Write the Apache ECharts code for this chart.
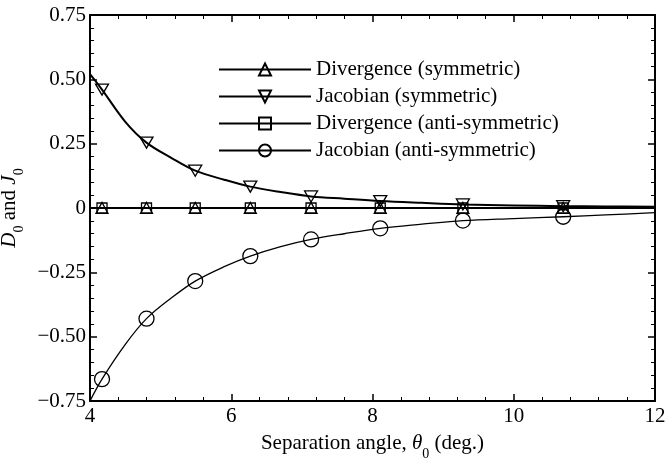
<!DOCTYPE html>
<html>
<head>
<meta charset="utf-8">
<script src="https://cdn.jsdelivr.net/npm/echarts@6/dist/echarts.min.js"></script>
<style>
  html, body { margin: 0; padding: 0; background: #fff; }
  #chart { width: 668px; height: 459px; }
</style>
</head>
<body>
<div id="chart"></div>
<script>
// Separation angles where the computed values are marked
const markAngles = [4.17, 4.8, 5.49, 6.27, 7.13, 8.11, 9.28, 10.7];

// Divergence is zero in both configurations
const divSymmetric = [0, 0, 0, 0, 0, 0, 0, 0];
const divAntiSymmetric = [0, 0, 0, 0, 0, 0, 0, 0];

// Fitted curves (angles include the marked points)
const curveAngles = [4, 4.17, 4.5, 4.8, 5.15, 5.49, 5.9, 6.27, 6.7, 7.13, 7.6, 8.11, 8.7, 9.28, 10, 10.7, 11.3, 12];
const jacSymmetric = [0.52, 0.46, 0.335, 0.254, 0.195, 0.145, 0.11, 0.083, 0.062, 0.045, 0.036, 0.027, 0.02, 0.014, 0.01, 0.007, 0.006, 0.005];
const jacAntiSymmetric = [-0.75, -0.665, -0.53, -0.43, -0.35, -0.284, -0.228, -0.187, -0.15, -0.122, -0.1, -0.079, -0.063, -0.049, -0.041, -0.034, -0.027, -0.018];

// Axis ticks
const xTicks = [4, 6, 8, 10, 12];
const yTicks = [-0.75, -0.5, -0.25, 0, 0.25, 0.5, 0.75];

const FONT = 'Liberation Serif';
const FS = 21;
const invTriangle = 'path://M0,0L20,0L10,17Z';

function isMark(x) {
  return markAngles.some(m => Math.abs(m - x) < 1e-6);
}

// Build point list: symbols shown only at the marked angles
function curveData(xs, ys) {
  return xs.map((x, i) => isMark(x) ? [x, ys[i]] : { value: [x, ys[i]], symbol: 'none' });
}
function flatData(ys) {
  const pts = [{ value: [4, 0], symbol: 'none' }];
  markAngles.forEach((x, i) => pts.push([x, ys[i]]));
  pts.push({ value: [12, 0], symbol: 'none' });
  return pts;
}

function fmtY(v) {
  if (Math.abs(v) < 1e-9) return '0';
  const s = Math.abs(v).toFixed(2);
  return v < 0 ? '\u2212' + s : s;
}

function lineSeries(name, data, symbol, size, width) {
  return {
    name: name,
    type: 'line',
    data: data,
    symbol: symbol,
    symbolSize: size,
    showSymbol: true,
    smooth: 0.35,
    clip: false,
    z: 3,
    lineStyle: { color: '#000', width: width },
    itemStyle: { color: 'rgba(255,255,255,0)', borderColor: '#000', borderWidth: 1.3 },
    emphasis: { disabled: true }
  };
}

const axisCommon = {
  type: 'value',
  axisLine: { show: true, onZero: false, lineStyle: { color: '#000', width: 2 } },
  axisTick: { show: true, inside: true, length: 7, lineStyle: { color: '#000', width: 1.5 } },
  minorTick: { show: true, splitNumber: 5, length: 4, lineStyle: { color: '#000', width: 1 } },
  splitLine: { show: false },
  minorSplitLine: { show: false }
};

const nameRich = {
  i: { fontFamily: FONT, fontSize: FS, fontStyle: 'italic', color: '#000', lineHeight: 24 },
  s: { fontFamily: FONT, fontSize: 14, color: '#000', verticalAlign: 'bottom', lineHeight: 14, padding: [0, 0, -5, 0] }
};

const chart = echarts.init(document.getElementById('chart'), null, { renderer: 'canvas' });

chart.setOption({
  backgroundColor: '#fff',
  animation: false,
  grid: { left: 90, right: 13, top: 15, bottom: 58, containLabel: false, outerBoundsMode: 'none' },
  legend: {
    left: 213,
    top: 54,
    orient: 'vertical',
    itemWidth: 92,
    itemHeight: 15,
    itemGap: 6,
    selectedMode: false,
    textStyle: { fontFamily: FONT, fontSize: FS, color: '#000' },
    data: ['Divergence (symmetric)', 'Jacobian (symmetric)', 'Divergence (anti-symmetric)', 'Jacobian (anti-symmetric)']
  },
  xAxis: [
    Object.assign({}, axisCommon, {
      min: xTicks[0], max: xTicks[xTicks.length - 1], interval: 2,
      position: 'bottom',
      axisLabel: { show: true, margin: 5, color: '#000', fontFamily: FONT, fontSize: FS },
      name: 'Separation angle, {i|θ}{s|0} (deg.)',
      nameLocation: 'middle',
      nameGap: 30,
      nameTextStyle: { fontFamily: FONT, fontSize: FS, color: '#000', lineHeight: 24, rich: nameRich }
    }),
    Object.assign({}, axisCommon, {
      min: xTicks[0], max: xTicks[xTicks.length - 1], interval: 2,
      position: 'top',
      axisLabel: { show: false }
    })
  ],
  yAxis: [
    Object.assign({}, axisCommon, {
      min: yTicks[0], max: yTicks[yTicks.length - 1], interval: 0.25,
      position: 'left',
      axisLabel: { show: true, margin: 4, color: '#000', fontFamily: FONT, fontSize: FS, formatter: fmtY },
      name: '{i|D}{s|0} and {i|J}{s|0}',
      nameLocation: 'middle',
      nameGap: 54,
      nameRotate: 90,
      nameTextStyle: { fontFamily: FONT, fontSize: FS, color: '#000', lineHeight: 24, rich: nameRich }
    }),
    Object.assign({}, axisCommon, {
      min: yTicks[0], max: yTicks[yTicks.length - 1], interval: 0.25,
      position: 'right',
      axisLabel: { show: false }
    })
  ],
  series: [
    lineSeries('Divergence (symmetric)', flatData(divSymmetric), 'triangle', [12, 11], 2),
    lineSeries('Jacobian (symmetric)', curveData(curveAngles, jacSymmetric), invTriangle, [13, 11], 2),
    lineSeries('Divergence (anti-symmetric)', flatData(divAntiSymmetric), 'rect', [10, 10], 1.3),
    lineSeries('Jacobian (anti-symmetric)', curveData(curveAngles, jacAntiSymmetric), 'circle', 15, 1.3)
  ]
});
</script>
</body>
</html>
